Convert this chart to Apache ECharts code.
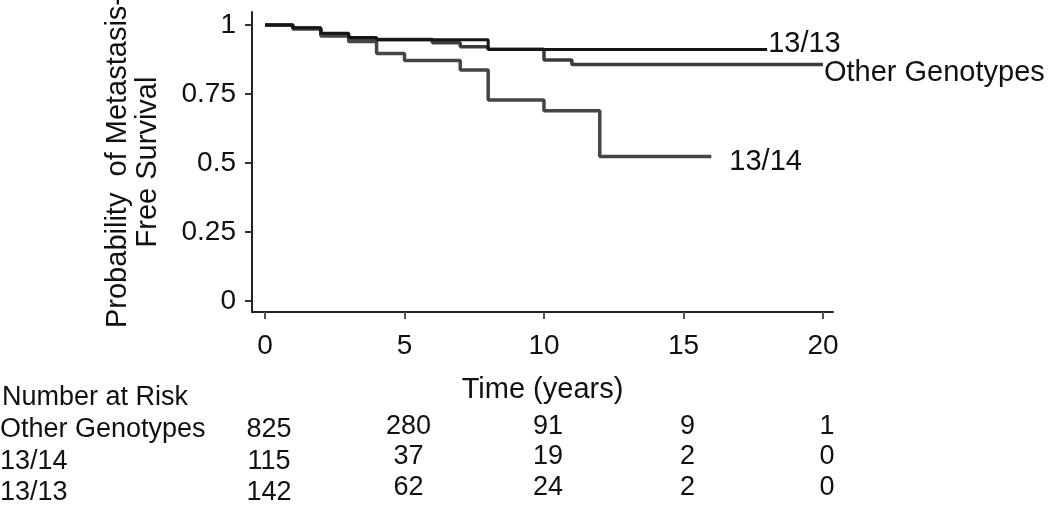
<!DOCTYPE html>
<html>
<head>
<meta charset="utf-8">
<script src="https://cdn.jsdelivr.net/npm/echarts@6/dist/echarts.min.js"></script>
<style>
html,body{margin:0;padding:0;background:#fff;}
#c{width:1050px;height:505px;}
</style>
</head>
<body>
<div id="c"></div>
<script>
// ---- data ----
var xTicks = [0, 5, 10, 15, 20];
var yTicks = [0, 0.25, 0.5, 0.75, 1];

var otherTimes = [0, 1, 2, 3, 6, 7, 8, 10, 11, 20];
var otherSurv  = [1, 0.988, 0.965, 0.947, 0.936, 0.921, 0.912, 0.873, 0.857, 0.857];

var t1314Times = [0, 1, 2, 3, 4, 5, 7, 8, 10, 12, 16];
var t1314Surv  = [1, 0.985, 0.96, 0.94, 0.897, 0.871, 0.837, 0.728, 0.689, 0.523, 0.523];

var t1313Times = [0, 1, 2, 3, 4, 8, 18];
var t1313Surv  = [1, 0.99, 0.97, 0.955, 0.946, 0.911, 0.911];

var riskTimes  = [0, 5, 10, 15, 20];
var riskGroups = ['Other Genotypes', '13/14', '13/13'];
var riskOther  = [825, 280, 91, 9, 1];
var risk1314   = [115, 37, 19, 2, 0];
var risk1313   = [142, 62, 24, 2, 0];

function pairs(t, s) { return t.map(function (v, i) { return [v, s[i]]; }); }

var FONT = '"Liberation Sans", Arial, sans-serif';
var chart = echarts.init(document.getElementById('c'), null, {renderer: 'canvas'});

function lineSeries(name, t, s, color, width, offset) {
  return {
    name: name, type: 'line', step: 'end', symbol: 'none',
    data: pairs(t, s),
    lineStyle: {color: color, width: width},
    endLabel: {
      show: true, formatter: name, color: '#111', fontFamily: FONT, fontSize: 29,
      distance: 0, offset: offset, align: 'left', verticalAlign: 'middle'
    },
    emphasis: {disabled: true}
  };
}

chart.setOption({
  animation: false,
  backgroundColor: '#fff',
  grid: {left: 252, right: 217, top: 12, bottom: 193, containLabel: false, outerBoundsMode: 'none'},
  xAxis: {
    type: 'value', min: -0.466, max: 20.36,
    name: 'Time (years)', nameLocation: 'middle', nameGap: 63,
    nameTextStyle: {color: '#111', fontFamily: FONT, fontSize: 29},
    axisLine: {show: true, onZero: false, lineStyle: {color: '#222', width: 2}},
    axisTick: {show: true, customValues: xTicks, length: 7, lineStyle: {color: '#555', width: 2}},
    axisLabel: {show: true, customValues: xTicks, margin: 20, color: '#111', fontFamily: FONT, fontSize: 28},
    splitLine: {show: false}
  },
  yAxis: {
    type: 'value', min: -0.04, max: 1.047,
    name: 'Probability  of Metastasis-\nFree Survival', nameLocation: 'middle', nameGap: 89, nameRotate: 90,
    nameTextStyle: {color: '#111', fontFamily: FONT, fontSize: 29, lineHeight: 30, align: 'center'},
    axisLine: {show: true, onZero: false, lineStyle: {color: '#222', width: 2}},
    axisTick: {show: true, customValues: yTicks, length: 7, lineStyle: {color: '#333', width: 2}},
    axisLabel: {show: true, customValues: yTicks, margin: 16, color: '#111', fontFamily: FONT, fontSize: 28},
    splitLine: {show: false}
  },
  series: [
    lineSeries('Other Genotypes', otherTimes, otherSurv, '#3c3c3c', 3.5, [1, 9]),
    lineSeries('13/14', t1314Times, t1314Surv, '#454545', 3.5, [18, 5]),
    lineSeries('13/13', t1313Times, t1313Surv, '#151515', 3, [1, -6])
  ]
});

// Number at risk table
var g = [];
var txt = function (x, y, s, align) {
  return {type: 'text', x: x, y: y, silent: true,
    style: {text: String(s), fill: '#111', font: '27px ' + FONT, textAlign: align, textVerticalAlign: 'middle'}};
};
g.push(txt(2, 398, 'Number at Risk', 'left'));
var rowsY0 = [430, 462, 493];
var rowsY  = [427, 457, 488];
var riskRows = [riskOther, risk1314, risk1313];
riskGroups.forEach(function (name, r) {
  g.push(txt(0, rowsY0[r], name, 'left'));
  riskTimes.forEach(function (t, i) {
    var px = chart.convertToPixel({xAxisIndex: 0}, t);
    g.push(txt(px + 4, i === 0 ? rowsY0[r] : rowsY[r], riskRows[r][i], 'center'));
  });
});
chart.setOption({graphic: g});
</script>
</body>
</html>
